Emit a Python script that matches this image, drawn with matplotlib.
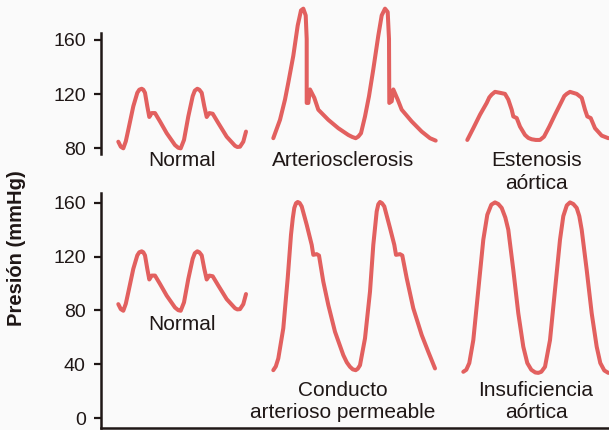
import matplotlib.pyplot as plt

plt.rcParams['font.family'] = ['Liberation Sans', 'DejaVu Sans']

# pressure traces (time in arbitrary units from start of trace, pressure in mmHg)
normal_t = [0, 2.5, 5, 7.5, 10, 15, 19, 21, 23.4, 25, 26.7, 29, 31, 33.4, 36.7, 41.7, 48.4, 56.7,
            60, 62.4, 65.7, 70, 74.4, 76.5, 79, 81, 83.4, 86, 88.4, 91, 94.4, 100, 108.4, 116.7,
            119, 121.7, 125, 127.7]
normal_p = [84.7, 81, 79.8, 85, 93.5, 110.9, 120.9, 123.2, 123.9, 123.2, 120.9, 110.9, 103, 105.9,
            105.9, 99.7, 91, 82.2, 80.2, 79.8, 86, 103.4, 118.4, 122.5, 123.9, 123.2, 120.9, 110.9,
            103, 105.9, 105.4, 98.5, 88.4, 81.7, 80.8, 81, 84.7, 92.2]

arterio_t = [0, 6.7, 11.7, 15, 20, 24.4, 27.7, 30, 32.4, 33.4, 33.4, 35, 36.7, 41, 45, 55, 65,
             75, 79, 82.4, 85, 87.7, 91.7, 95.7, 100, 105, 108.4, 111.7, 114.4, 115.7, 116, 118.4,
             120, 124.4, 128.4, 138.4, 148.4, 156.7, 162.4]
arterio_p = [87.3, 100.9, 115.9, 128.4, 148.3, 170.7, 181.9, 183.2, 178.2, 160.7, 113.4, 113.4,
             123.4, 117.2, 108.4, 100.9, 94.7, 89.7, 88.2, 87.3, 88.5, 91, 103.4, 118.4, 138.3,
             163.2, 178.2, 183.2, 180.7, 160.7, 113.4, 114.6, 123.4, 115.9, 108.4, 99.7, 92.2,
             87.3, 85.5]

estenosis_t = [0, 6, 12.7, 19.4, 22, 24.4, 27.7, 32.7, 37.7, 41, 44.4, 46, 49.4, 52.7, 57.7, 61,
               64.4, 68.5, 72.7, 76.7, 82, 87.7, 94.4, 97, 99.4, 102.7, 109.4, 114.4, 117.7, 120,
               123.4, 127.7, 134.4, 141]
estenosis_p = [86, 94.7, 104.7, 113.4, 117.5, 119.6, 121.6, 120.9, 120.1, 115.9, 108.4, 103.4,
               102.2, 95.9, 89.7, 87.5, 86.5, 86, 86, 88.4, 95.9, 104.7, 114.6, 118.5, 120.1,
               121.6, 120.1, 117.2, 108.4, 103.4, 102.2, 94.7, 89.2, 87.3]

conducto_t = [0, 2.5, 5, 10, 14.4, 17.7, 19.5, 21, 22.7, 24.4, 26.3, 28.4, 33.4, 38.4, 40, 43.4,
              45.7, 50, 55, 61.7, 70, 73.5, 76.7, 79.5, 82.4, 84.5, 86.7, 91.7, 96.7, 100, 103.4,
              105, 106.7, 108.7, 111, 116.7, 121, 122.7, 126.7, 129, 133.4, 140, 148.4, 155, 161.7]
conducto_p = [35.7, 38.5, 44.4, 66.8, 104, 136.2, 148.5, 156.1, 159.6, 160.5, 159.8, 157.2,
              143.6, 128.7, 121.3, 121.8, 120.8, 101.4, 84.1, 64.2, 46.9, 41.5, 38.2, 36.3, 35.7,
              36.8, 39.4, 59.3, 94, 128.7, 153.5, 158.8, 160.5, 159.6, 157.2, 141.2, 128.7, 121.3,
              121.8, 120.8, 104, 81.6, 61.8, 49.3, 37]

insuf_t = [0, 3, 6, 10, 15, 20, 24, 28, 31.7, 35, 38.4, 42, 45, 50, 55, 60, 64, 68, 72, 75, 78,
           81.7, 86.7, 91.7, 96.7, 100, 103.5, 106.7, 110, 113.4, 116, 118.4, 123.4, 128.4, 133.4,
           137, 141, 145]
insuf_p = [34.5, 36, 41, 58, 95.3, 132.5, 151, 158.5, 160.2, 159, 156.1, 149, 139.9, 110.1, 77.9,
           53.1, 41, 36, 34, 33.7, 34.5, 38.2, 58, 95.3, 132.5, 150, 158, 160.2, 159, 156.1, 150,
           139.9, 110.1, 77.9, 53.1, 41, 35.5, 33.7]

top_ticks = [80, 120, 160]
bot_ticks = [0, 40, 80, 120, 160]

LINE = '#E2605F'
INK = '#1f1716'
BG = '#FAFAFA'

fig = plt.figure(figsize=(6.09, 4.30), dpi=100, facecolor=BG)
ax_top = fig.add_axes([101 / 609, 276 / 430, 508 / 609, 154 / 430])
ax_bot = fig.add_axes([101 / 609, 2 / 430, 508 / 609, 238 / 430])


def trace(ax, t, p, start):
    ax.plot([start + v for v in t], p, color=LINE, lw=2.9,
            solid_joinstyle='round', solid_capstyle='round', clip_on=False)


trace(ax_top, normal_t, normal_p, 17.3)
trace(ax_top, arterio_t, arterio_p, 172.3)
trace(ax_top, estenosis_t, estenosis_p, 366.3)
trace(ax_bot, normal_t, normal_p, 17.3)
trace(ax_bot, conducto_t, conducto_p, 172.3)
trace(ax_bot, insuf_t, insuf_p, 362.3)

ax_top.set_ylim(75.6, 189.6)
ax_bot.set_ylim(-7.2, 169.4)

for ax, ticks, lo, hi in [(ax_top, top_ticks, 75.6, 165.2), (ax_bot, bot_ticks, -7.2, 167.2)]:
    ax.set_xlim(0, 508)
    ax.set_facecolor('none')
    ax.set_yticks(ticks)
    ax.set_xticks([])
    ax.tick_params(axis='y', direction='out', length=5, width=1.6, color=INK,
                   labelcolor=INK, labelsize=14, pad=6)
    for s in ['top', 'right']:
        ax.spines[s].set_visible(False)
    ax.spines['left'].set_bounds(lo, hi)
    ax.spines['left'].set_linewidth(1.8)
    ax.spines['left'].set_color(INK)

ax_top.spines['bottom'].set_visible(False)
ax_bot.spines['bottom'].set_linewidth(1.8)
ax_bot.spines['bottom'].set_color(INK)

kw = dict(ha='center', va='top', fontsize=15, color=INK, linespacing=1.25)
ax_top.text(80.7, 77.5, 'Normal', **kw)
ax_top.text(241.8, 77.5, 'Arteriosclerosis', **kw)
ax_top.text(435.7, 77.5, 'Estenosis\naórtica', **kw)
ax_bot.text(80.7, 76.5, 'Normal', **kw)
ax_bot.text(241.5, 28, 'Conducto\narterioso permeable', **kw)
ax_bot.text(435, 28, 'Insuficiencia\naórtica', **kw)

fig.text(17 / 609, 1 - 248 / 430, 'Presión (mmHg)', rotation=90, ha='center', va='center',
         fontsize=14.5, fontweight='bold', color=INK)

fig.savefig('out.png', dpi=100, facecolor=BG)
